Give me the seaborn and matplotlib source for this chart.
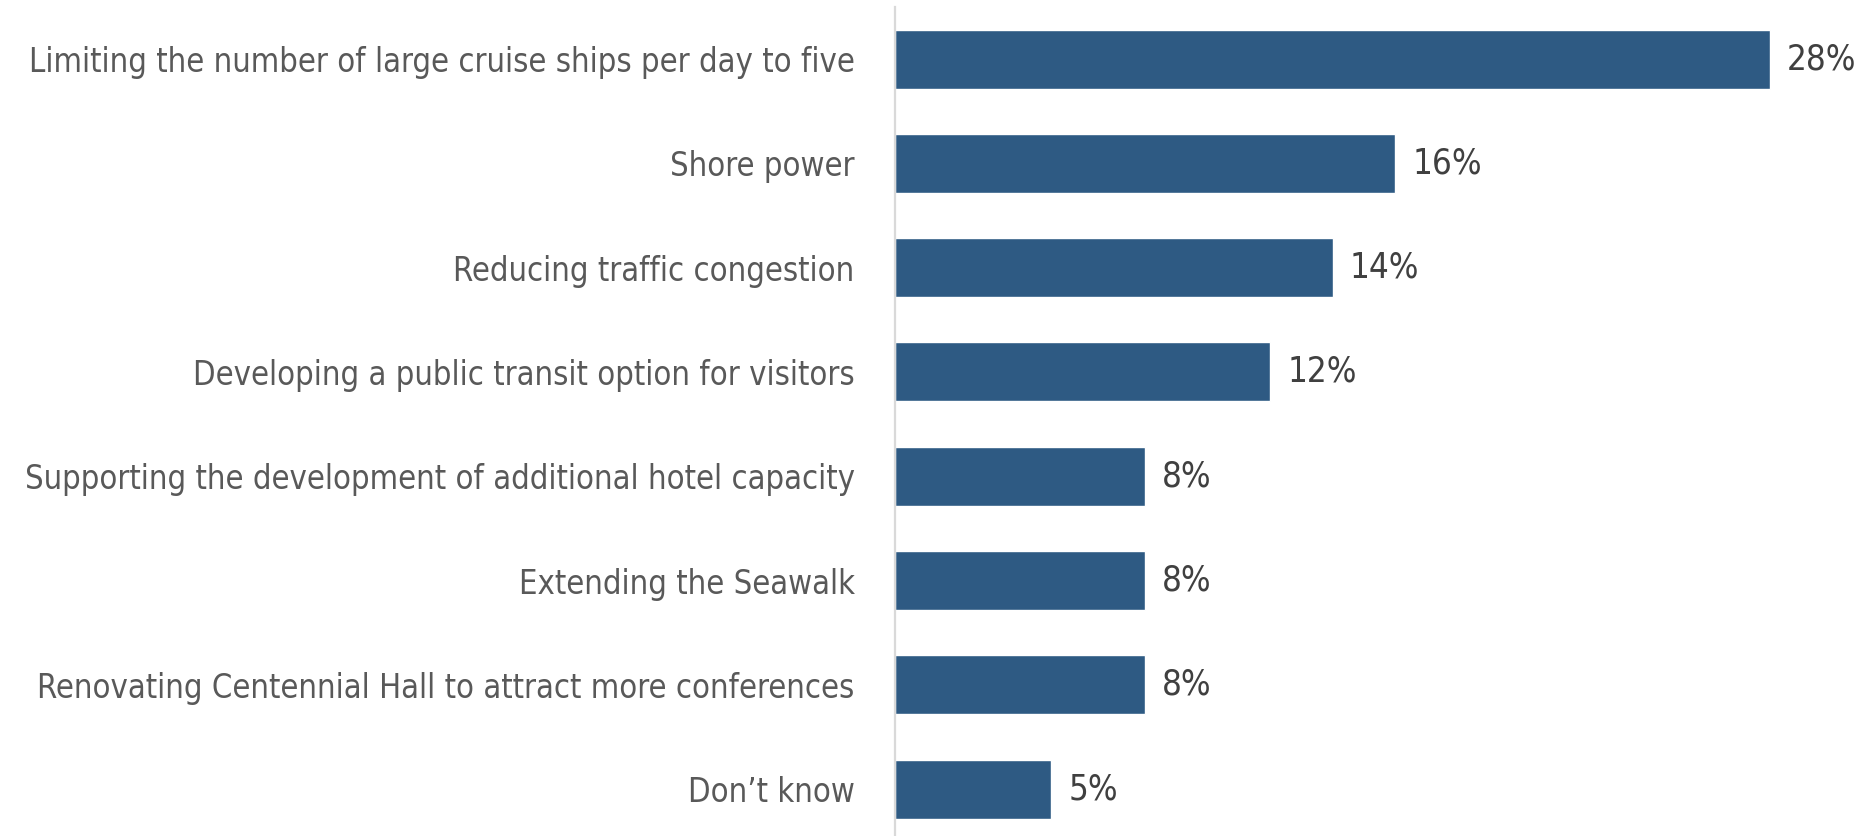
import matplotlib
matplotlib.use("Agg")
import pandas as pd
import seaborn as sns
import matplotlib.pyplot as plt

# data
answers = [
    "Limiting the number of large cruise ships per day to five",
    "Shore power",
    "Reducing traffic congestion",
    "Developing a public transit option for visitors",
    "Supporting the development of additional hotel capacity",
    "Extending the Seawalk",
    "Renovating Centennial Hall to attract more conferences",
    "Don\u2019t know",
]
shares = [28, 16, 14, 12, 8, 8, 8, 5]

df = pd.DataFrame({"answer": answers, "share": shares})

sns.set_theme(style="white")
plt.rcParams["font.family"] = ["DejaVu Sans"]
plt.rcParams["font.stretch"] = "condensed"

fig = plt.figure(figsize=(18.65, 8.36), dpi=100)
ax = fig.add_axes([895 / 1865, 0.0, 1 - 895 / 1865, 1 - 7 / 836])

bar_color = "#2E5A83"
sns.barplot(data=df, x="share", y="answer", color=bar_color, width=0.566,
            saturation=1, ax=ax)

ax.set_xlim(0, 31.04)
ax.set_ylim(7.45, -0.5)
ax.set_xlabel("")
ax.set_ylabel("")
ax.set_xticks([])

for s in ["top", "right", "bottom"]:
    ax.spines[s].set_visible(False)
ax.spines["left"].set_color("#d9d9d9")
ax.spines["left"].set_linewidth(1.6)

ax.tick_params(axis="y", length=0, pad=29, labelsize=23.5, labelcolor="#595959")

for i, v in enumerate(shares):
    ax.text(v + 0.55, i, f"{v}%", va="center", ha="left",
            fontsize=25, color="#404040")

fig.savefig("out.png", dpi=100)
